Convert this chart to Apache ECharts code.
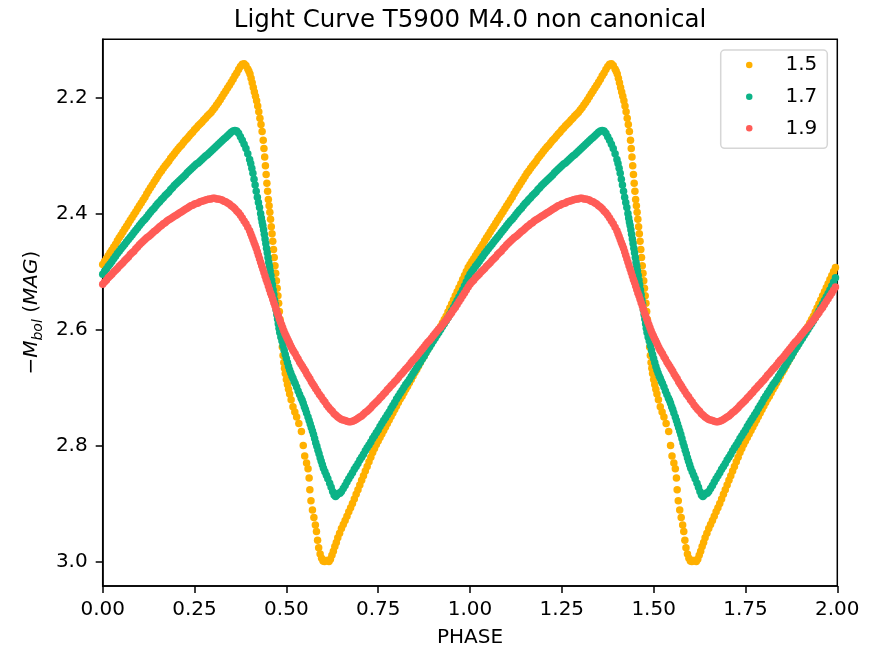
<!DOCTYPE html>
<html>
<head>
<meta charset="utf-8">
<script src="https://cdn.jsdelivr.net/npm/echarts@6/dist/echarts.min.js"></script>
<style>html,body{margin:0;padding:0;background:#fff}#c{width:876px;height:650px}</style>
</head>
<body>
<div id="c"></div>
<script>
// One pulsation cycle per model, [phase, -Mbol]; the chart shows it twice (phase and phase + 1)
const cyc15 = [[0,2.488],[0.005,2.483],[0.01,2.478],[0.015,2.473],[0.02,2.468],[0.025,2.463],[0.03,2.458],[0.035,2.453],[0.04,2.447],[0.045,2.442],[0.05,2.437],[0.055,2.432],[0.06,2.427],[0.065,2.422],[0.07,2.417],[0.075,2.412],[0.08,2.407],[0.085,2.402],[0.09,2.397],[0.095,2.392],[0.1,2.387],[0.105,2.382],[0.11,2.377],[0.115,2.372],[0.12,2.366],[0.125,2.361],[0.13,2.356],[0.135,2.351],[0.14,2.346],[0.145,2.341],[0.15,2.336],[0.155,2.331],[0.16,2.327],[0.165,2.322],[0.17,2.318],[0.175,2.314],[0.18,2.31],[0.185,2.305],[0.19,2.301],[0.195,2.297],[0.2,2.293],[0.205,2.289],[0.21,2.285],[0.215,2.282],[0.22,2.278],[0.225,2.274],[0.23,2.271],[0.235,2.267],[0.24,2.263],[0.245,2.26],[0.25,2.256],[0.255,2.253],[0.26,2.249],[0.265,2.246],[0.27,2.243],[0.275,2.239],[0.28,2.236],[0.285,2.232],[0.29,2.229],[0.295,2.226],[0.3,2.222],[0.305,2.218],[0.31,2.213],[0.315,2.209],[0.32,2.204],[0.325,2.199],[0.33,2.194],[0.335,2.189],[0.34,2.184],[0.345,2.179],[0.35,2.174],[0.355,2.169],[0.36,2.163],[0.365,2.158],[0.37,2.152],[0.375,2.147],[0.38,2.143],[0.385,2.142],[0.39,2.145],[0.395,2.151],[0.398,2.155],[0.401,2.16],[0.404,2.167],[0.407,2.175],[0.41,2.183],[0.413,2.191],[0.416,2.198],[0.419,2.206],[0.422,2.215],[0.425,2.225],[0.428,2.236],[0.431,2.247],[0.434,2.259],[0.437,2.274],[0.439,2.288],[0.441,2.303],[0.443,2.318],[0.445,2.333],[0.447,2.348],[0.449,2.362],[0.451,2.376],[0.453,2.387],[0.455,2.398],[0.457,2.41],[0.459,2.423],[0.461,2.435],[0.463,2.448],[0.465,2.462],[0.467,2.476],[0.469,2.49],[0.471,2.503],[0.473,2.516],[0.475,2.529],[0.477,2.542],[0.479,2.555],[0.481,2.569],[0.483,2.583],[0.485,2.598],[0.487,2.614],[0.489,2.63],[0.491,2.645],[0.493,2.657],[0.495,2.667],[0.497,2.676],[0.5,2.686],[0.503,2.695],[0.506,2.703],[0.509,2.711],[0.513,2.721],[0.518,2.733],[0.523,2.742],[0.528,2.751],[0.534,2.762],[0.541,2.776],[0.546,2.8],[0.55,2.818],[0.555,2.83],[0.559,2.84],[0.562,2.856],[0.564,2.876],[0.567,2.895],[0.571,2.911],[0.575,2.924],[0.579,2.937],[0.582,2.948],[0.585,2.963],[0.588,2.976],[0.592,2.987],[0.596,2.994],[0.6,2.999],[0.604,3.0],[0.608,2.998],[0.612,2.998],[0.616,3.0],[0.62,2.996],[0.624,2.989],[0.628,2.982],[0.632,2.974],[0.636,2.967],[0.64,2.959],[0.645,2.951],[0.65,2.943],[0.655,2.936],[0.66,2.929],[0.665,2.922],[0.67,2.914],[0.675,2.907],[0.68,2.9],[0.685,2.892],[0.69,2.884],[0.695,2.876],[0.7,2.868],[0.705,2.86],[0.71,2.852],[0.715,2.844],[0.72,2.836],[0.725,2.828],[0.73,2.82],[0.735,2.812],[0.74,2.805],[0.745,2.798],[0.75,2.792],[0.755,2.786],[0.76,2.78],[0.765,2.774],[0.77,2.768],[0.775,2.762],[0.78,2.756],[0.785,2.75],[0.79,2.744],[0.795,2.738],[0.8,2.732],[0.805,2.726],[0.81,2.72],[0.815,2.715],[0.82,2.709],[0.825,2.703],[0.83,2.698],[0.835,2.692],[0.84,2.686],[0.845,2.68],[0.85,2.674],[0.855,2.669],[0.86,2.663],[0.865,2.657],[0.87,2.651],[0.875,2.646],[0.88,2.64],[0.885,2.634],[0.89,2.629],[0.895,2.623],[0.9,2.617],[0.905,2.612],[0.91,2.606],[0.915,2.6],[0.92,2.595],[0.925,2.589],[0.93,2.583],[0.935,2.577],[0.94,2.57],[0.945,2.563],[0.95,2.556],[0.955,2.549],[0.96,2.542],[0.965,2.535],[0.97,2.528],[0.975,2.521],[0.98,2.514],[0.985,2.507],[0.99,2.5],[0.995,2.493]];

const cyc17 = [[0,2.505],[0.005,2.5],[0.01,2.496],[0.015,2.491],[0.02,2.487],[0.025,2.483],[0.03,2.478],[0.035,2.474],[0.04,2.469],[0.045,2.465],[0.05,2.461],[0.055,2.457],[0.06,2.453],[0.065,2.449],[0.07,2.445],[0.075,2.441],[0.08,2.437],[0.085,2.433],[0.09,2.429],[0.095,2.425],[0.1,2.421],[0.105,2.417],[0.11,2.413],[0.115,2.41],[0.12,2.406],[0.125,2.402],[0.13,2.398],[0.135,2.394],[0.14,2.391],[0.145,2.387],[0.15,2.383],[0.155,2.38],[0.16,2.376],[0.165,2.373],[0.17,2.369],[0.175,2.366],[0.18,2.363],[0.185,2.359],[0.19,2.356],[0.195,2.352],[0.2,2.349],[0.205,2.346],[0.21,2.343],[0.215,2.34],[0.22,2.337],[0.225,2.334],[0.23,2.33],[0.235,2.327],[0.24,2.324],[0.245,2.321],[0.25,2.318],[0.255,2.315],[0.26,2.313],[0.265,2.31],[0.27,2.307],[0.275,2.304],[0.28,2.301],[0.285,2.299],[0.29,2.296],[0.295,2.293],[0.3,2.29],[0.305,2.287],[0.31,2.284],[0.315,2.281],[0.32,2.278],[0.325,2.275],[0.33,2.272],[0.335,2.269],[0.34,2.266],[0.345,2.263],[0.35,2.26],[0.355,2.258],[0.36,2.257],[0.365,2.258],[0.37,2.262],[0.375,2.268],[0.38,2.274],[0.385,2.281],[0.39,2.288],[0.395,2.297],[0.4,2.307],[0.403,2.314],[0.406,2.322],[0.409,2.331],[0.412,2.341],[0.415,2.351],[0.418,2.362],[0.421,2.372],[0.424,2.381],[0.427,2.39],[0.43,2.4],[0.432,2.408],[0.434,2.415],[0.436,2.421],[0.438,2.428],[0.44,2.436],[0.442,2.444],[0.444,2.452],[0.446,2.46],[0.448,2.468],[0.45,2.476],[0.452,2.484],[0.454,2.491],[0.456,2.499],[0.458,2.507],[0.46,2.515],[0.462,2.523],[0.464,2.532],[0.466,2.54],[0.468,2.549],[0.47,2.557],[0.472,2.566],[0.474,2.574],[0.476,2.582],[0.478,2.59],[0.48,2.598],[0.482,2.605],[0.485,2.613],[0.488,2.62],[0.491,2.628],[0.494,2.636],[0.497,2.643],[0.5,2.65],[0.503,2.657],[0.506,2.664],[0.509,2.67],[0.512,2.675],[0.515,2.68],[0.518,2.684],[0.521,2.689],[0.524,2.693],[0.528,2.699],[0.532,2.706],[0.536,2.712],[0.54,2.718],[0.543,2.722],[0.546,2.727],[0.549,2.733],[0.552,2.738],[0.555,2.744],[0.559,2.751],[0.562,2.757],[0.565,2.763],[0.568,2.769],[0.571,2.775],[0.574,2.781],[0.577,2.788],[0.58,2.795],[0.583,2.801],[0.586,2.808],[0.589,2.814],[0.592,2.821],[0.595,2.827],[0.598,2.833],[0.601,2.839],[0.605,2.845],[0.609,2.851],[0.613,2.857],[0.618,2.865],[0.622,2.872],[0.626,2.879],[0.63,2.885],[0.634,2.888],[0.638,2.885],[0.642,2.882],[0.646,2.882],[0.65,2.879],[0.655,2.874],[0.66,2.869],[0.665,2.863],[0.67,2.857],[0.675,2.852],[0.68,2.847],[0.685,2.841],[0.69,2.836],[0.695,2.831],[0.7,2.825],[0.705,2.82],[0.71,2.815],[0.715,2.809],[0.72,2.804],[0.725,2.799],[0.73,2.794],[0.735,2.788],[0.74,2.783],[0.745,2.778],[0.75,2.773],[0.755,2.767],[0.76,2.762],[0.765,2.757],[0.77,2.752],[0.775,2.747],[0.78,2.742],[0.785,2.736],[0.79,2.731],[0.795,2.726],[0.8,2.72],[0.805,2.715],[0.81,2.71],[0.815,2.705],[0.82,2.7],[0.825,2.695],[0.83,2.691],[0.835,2.686],[0.84,2.681],[0.845,2.676],[0.85,2.671],[0.855,2.666],[0.86,2.661],[0.865,2.656],[0.87,2.651],[0.875,2.646],[0.88,2.64],[0.885,2.635],[0.89,2.63],[0.895,2.625],[0.9,2.62],[0.905,2.615],[0.91,2.61],[0.915,2.605],[0.92,2.6],[0.925,2.595],[0.93,2.59],[0.935,2.585],[0.94,2.58],[0.945,2.574],[0.95,2.568],[0.955,2.562],[0.96,2.556],[0.965,2.55],[0.97,2.544],[0.975,2.538],[0.98,2.532],[0.985,2.525],[0.99,2.518],[0.995,2.511]];

const cyc19 = [[0,2.522],[0.005,2.518],[0.01,2.515],[0.015,2.511],[0.02,2.508],[0.025,2.505],[0.03,2.501],[0.035,2.498],[0.04,2.495],[0.045,2.491],[0.05,2.488],[0.055,2.485],[0.06,2.481],[0.065,2.478],[0.07,2.475],[0.075,2.471],[0.08,2.468],[0.085,2.465],[0.09,2.461],[0.095,2.458],[0.1,2.454],[0.105,2.451],[0.11,2.448],[0.115,2.445],[0.12,2.442],[0.125,2.44],[0.13,2.437],[0.135,2.434],[0.14,2.431],[0.145,2.429],[0.15,2.426],[0.155,2.423],[0.16,2.421],[0.165,2.418],[0.17,2.416],[0.175,2.413],[0.18,2.411],[0.185,2.409],[0.19,2.407],[0.195,2.405],[0.2,2.403],[0.205,2.401],[0.21,2.399],[0.215,2.397],[0.22,2.395],[0.225,2.393],[0.23,2.391],[0.235,2.389],[0.24,2.387],[0.245,2.386],[0.25,2.384],[0.255,2.383],[0.26,2.382],[0.265,2.38],[0.27,2.379],[0.275,2.378],[0.28,2.377],[0.285,2.376],[0.29,2.375],[0.295,2.375],[0.3,2.374],[0.305,2.374],[0.31,2.375],[0.315,2.375],[0.32,2.376],[0.325,2.377],[0.33,2.379],[0.335,2.38],[0.34,2.382],[0.345,2.384],[0.35,2.387],[0.355,2.389],[0.36,2.392],[0.365,2.396],[0.37,2.399],[0.375,2.403],[0.38,2.408],[0.385,2.413],[0.39,2.418],[0.395,2.424],[0.4,2.43],[0.403,2.435],[0.406,2.44],[0.409,2.445],[0.412,2.45],[0.415,2.455],[0.418,2.46],[0.421,2.466],[0.424,2.472],[0.427,2.478],[0.43,2.484],[0.433,2.49],[0.436,2.496],[0.439,2.502],[0.442,2.508],[0.445,2.514],[0.448,2.519],[0.451,2.525],[0.454,2.531],[0.457,2.537],[0.46,2.542],[0.463,2.548],[0.466,2.554],[0.469,2.559],[0.472,2.565],[0.475,2.571],[0.478,2.576],[0.481,2.582],[0.484,2.587],[0.487,2.592],[0.49,2.597],[0.493,2.602],[0.496,2.607],[0.499,2.611],[0.502,2.615],[0.505,2.619],[0.508,2.623],[0.511,2.627],[0.514,2.631],[0.517,2.635],[0.52,2.638],[0.524,2.642],[0.528,2.647],[0.532,2.651],[0.536,2.656],[0.54,2.66],[0.544,2.664],[0.548,2.668],[0.552,2.672],[0.556,2.677],[0.56,2.681],[0.564,2.685],[0.568,2.69],[0.572,2.694],[0.576,2.698],[0.58,2.702],[0.585,2.707],[0.59,2.712],[0.595,2.716],[0.6,2.721],[0.605,2.725],[0.61,2.73],[0.615,2.734],[0.62,2.738],[0.625,2.741],[0.63,2.745],[0.635,2.748],[0.64,2.751],[0.645,2.753],[0.65,2.755],[0.655,2.756],[0.66,2.757],[0.665,2.758],[0.67,2.759],[0.675,2.759],[0.68,2.758],[0.685,2.757],[0.69,2.755],[0.695,2.753],[0.7,2.751],[0.705,2.749],[0.71,2.746],[0.715,2.743],[0.72,2.741],[0.725,2.738],[0.73,2.735],[0.735,2.731],[0.74,2.728],[0.745,2.725],[0.75,2.722],[0.755,2.718],[0.76,2.715],[0.765,2.711],[0.77,2.708],[0.775,2.704],[0.78,2.701],[0.785,2.697],[0.79,2.694],[0.795,2.69],[0.8,2.687],[0.805,2.683],[0.81,2.679],[0.815,2.676],[0.82,2.672],[0.825,2.668],[0.83,2.665],[0.835,2.661],[0.84,2.657],[0.845,2.653],[0.85,2.65],[0.855,2.646],[0.86,2.642],[0.865,2.638],[0.87,2.634],[0.875,2.63],[0.88,2.626],[0.885,2.622],[0.89,2.619],[0.895,2.615],[0.9,2.611],[0.905,2.607],[0.91,2.603],[0.915,2.599],[0.92,2.596],[0.925,2.592],[0.93,2.588],[0.935,2.584],[0.94,2.58],[0.945,2.575],[0.95,2.571],[0.955,2.566],[0.96,2.562],[0.965,2.557],[0.97,2.552],[0.975,2.547],[0.98,2.542],[0.985,2.537],[0.99,2.532],[0.995,2.527]];

const seriesNames = ['1.5', '1.7', '1.9'];
const seriesColors = ['#ffb000', '#0cb387', '#ff5c57'];
const xTicks = [0, 0.25, 0.5, 0.75, 1.0, 1.25, 1.5, 1.75, 2.0];
const yTicks = [2.2, 2.4, 2.6, 2.8, 3.0];
const titleText = 'Light Curve T5900 M4.0 non canonical';
const xName = 'PHASE';

const FONT = 'DejaVu Sans';
function twoCycles(cyc) {
  return cyc.map(p => [p[0], p[1]]).concat(cyc.map(p => [p[0] + 1, p[1]]));
}
const cycles = [cyc15, cyc17, cyc19];

const chart = echarts.init(document.getElementById('c'), null, {renderer: 'canvas'});
chart.setOption({
  animation: false,
  backgroundColor: '#ffffff',
  textStyle: {fontFamily: FONT},
  title: {
    text: titleText,
    left: 470, top: 8, padding: 0,
    textAlign: 'center',
    textStyle: {fontFamily: FONT, fontSize: 24.5, fontWeight: 'normal', color: '#000'}
  },
  grid: {
    left: 102.7, right: 38.7, top: 39.3, bottom: 64,
    show: true, borderColor: '#000', borderWidth: 1.5, backgroundColor: 'transparent',
    containLabel: false, outerBoundsMode: 'none'
  },
  legend: {
    data: seriesNames,
    orient: 'vertical',
    left: 720.7, top: 50,
    padding: [4, 10, 9, 25.3],
    itemGap: 9.65,
    itemWidth: 6.5, itemHeight: 6.5,
    icon: 'circle',
    backgroundColor: 'rgba(255,255,255,0.8)',
    borderColor: '#d6d6d6', borderWidth: 1.5, borderRadius: 4,
    textStyle: {fontFamily: FONT, fontSize: 20, color: '#000', lineHeight: 22, padding: [0, 0, 0, 28]}
  },
  xAxis: {
    type: 'value', min: 0, max: 2, interval: 0.25,
    name: xName, nameLocation: 'middle', nameGap: 42,
    nameTextStyle: {fontFamily: FONT, fontSize: 20, color: '#000'},
    axisLine: {show: true, onZero: false, lineStyle: {color: '#000', width: 1.5}},
    axisTick: {show: true, length: 7, inside: false, lineStyle: {color: '#000', width: 1.5}},
    axisLabel: {show: true, margin: 14, fontFamily: FONT, fontSize: 20, color: '#000',
      showMinLabel: true, showMaxLabel: true, hideOverlap: false,
      formatter: v => v.toFixed(2)},
    splitLine: {show: false}
  },
  yAxis: {
    type: 'value', inverse: true, min: 2.100, max: 3.042,
    name: '{a|\u2212}{m|M}{s|bol}{a| (}{m|MAG}{a|)}',
    nameLocation: 'middle', nameGap: 57, nameRotate: 90,
    nameTextStyle: {
      fontFamily: FONT, fontSize: 20, color: '#000', lineHeight: 27,
      rich: {
        a: {fontFamily: FONT, fontSize: 20, color: '#000'},
        m: {fontFamily: FONT, fontSize: 20, fontStyle: 'italic', color: '#000'},
        s: {fontFamily: FONT, fontSize: 14, fontStyle: 'italic', color: '#000', verticalAlign: 'bottom'}
      }
    },
    axisLine: {show: true, onZero: false, lineStyle: {color: '#000', width: 1.5}},
    axisTick: {show: true, length: 7, inside: false, customValues: yTicks, lineStyle: {color: '#000', width: 1.5}},
    axisLabel: {show: true, margin: 15, fontFamily: FONT, fontSize: 20, color: '#000',
      customValues: yTicks, formatter: v => Number(v).toFixed(1)},
    splitLine: {show: false}
  },
  series: seriesNames.map((nm, i) => ({
    type: 'scatter',
    name: nm,
    symbol: 'circle',
    symbolSize: 7.5,
    itemStyle: {color: seriesColors[i], opacity: 1},
    emphasis: {disabled: true},
    large: false,
    progressive: 0,
    data: twoCycles(cycles[i])
  }))
});
</script>
</body>
</html>
